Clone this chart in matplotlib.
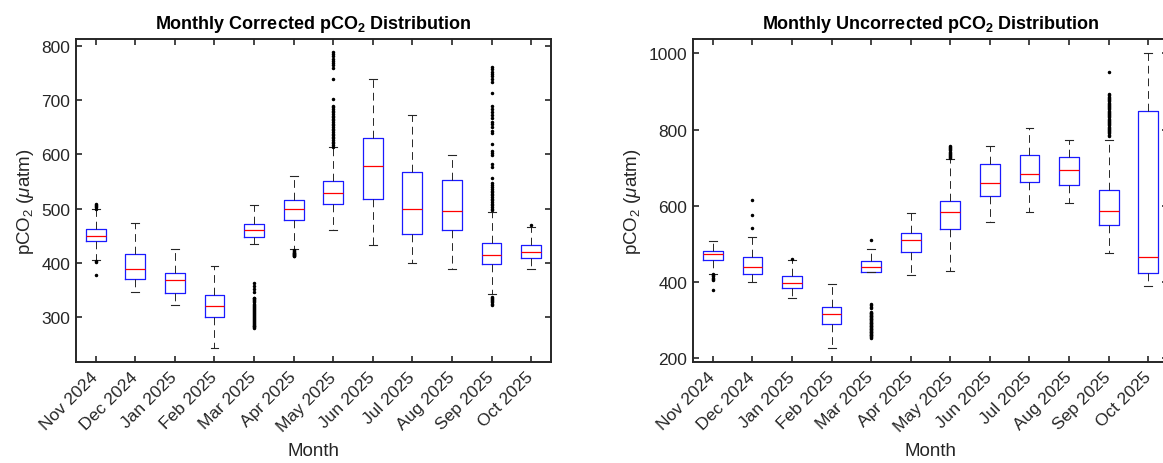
import matplotlib
matplotlib.use('Agg')
import matplotlib.pyplot as plt

plt.rcParams['font.family'] = ['Liberation Sans', 'DejaVu Sans']
plt.rcParams['mathtext.fontset'] = 'custom'
plt.rcParams['mathtext.rm'] = 'Liberation Sans'
plt.rcParams['mathtext.it'] = 'Liberation Sans:italic'
plt.rcParams['mathtext.bf'] = 'Liberation Sans:bold'

# месяцы (категории по оси X)
months = ['Nov 2024', 'Dec 2024', 'Jan 2025', 'Feb 2025', 'Mar 2025', 'Apr 2025',
          'May 2025', 'Jun 2025', 'Jul 2025', 'Aug 2025', 'Sep 2025', 'Oct 2025']

# скорректированный pCO2: квартили, медианы, усы
corr_q1 = [441, 371, 344, 300, 447, 479, 509, 517, 453, 461, 398, 409]
corr_med = [449, 389, 368, 321, 460, 499, 528, 578, 499, 496, 415, 420]
corr_q3 = [463, 417, 382, 340, 472, 515, 550, 630, 568, 552, 437, 432]
corr_lo = [405, 346, 323, 244, 434, 425, 461, 432, 399, 389, 342, 388]
corr_hi = [499, 474, 425, 394, 507, 560, 613, 738, 673, 599, 494, 466]
corr_fliers = [
    [378, 402, 404, 500, 502, 504, 506, 508],
    [],
    [],
    [],
    [280, 281, 283, 284, 286, 288, 289, 291, 293, 295, 297, 298, 300, 302, 304,
     305, 307, 309, 311, 313, 315, 317, 319, 321, 323, 325, 327, 329, 331, 333,
     335, 336, 346, 352, 358, 362],
    [412, 413, 414, 415, 416, 417, 418, 419, 420, 422, 424],
    [614, 617, 620, 623, 626, 629, 632, 635, 638, 641, 644, 647, 650, 653, 656,
     659, 662, 665, 668, 671, 674, 677, 680, 683, 686, 689, 701, 738, 759, 764,
     768, 772, 776, 780, 784, 788],
    [],
    [],
    [],
    [497, 500, 503, 506, 509, 512, 515, 518, 521, 524, 527, 530, 533, 536, 540,
     543, 547, 557, 577, 581, 599, 602, 605, 618, 639, 643, 650, 655, 660, 666,
     672, 678, 684, 688, 713, 732, 738, 743, 748, 752, 757, 761,
     323, 325, 327, 329, 331, 333, 335, 338],
    [469],
]

# нескорректированный pCO2
unc_q1 = [456, 421, 384, 290, 426, 479, 539, 625, 662, 655, 548, 423]
unc_med = [472, 440, 397, 316, 438, 509, 584, 660, 684, 693, 585, 466]
unc_q3 = [481, 464, 414, 334, 455, 529, 612, 710, 733, 728, 640, 849]
unc_lo = [421, 399, 358, 226, 426, 417, 429, 558, 584, 608, 476, 388]
unc_hi = [508, 518, 458, 393, 486, 581, 722, 757, 805, 773, 773, 1000]
unc_fliers = [
    [379, 405, 408, 411, 414, 417, 420],
    [542, 575, 614],
    [460],
    [],
    [253, 255, 257, 259, 261, 263, 265, 267, 269, 271, 273, 275, 277, 279, 281,
     283, 285, 287, 289, 291, 293, 295, 297, 299, 301, 303, 305, 307, 309, 311,
     313, 315, 317, 319, 321, 330, 334, 338, 341, 509],
    [],
    [724, 727, 730, 733, 736, 739, 742, 745, 748, 751, 754, 757],
    [],
    [],
    [],
    [784, 787, 790, 793, 796, 799, 802, 805, 808, 811, 814, 817, 820, 823, 826,
     829, 832, 835, 838, 841, 844, 847, 850, 853, 856, 859, 862, 865, 868, 871,
     874, 877, 880, 883, 886, 890, 893, 952],
    [],
]

dark = '#262626'


def draw_panel(ax, q1, med, q3, lo, hi, fliers, title, ylim, yticks):
    # статистика для bxp
    stats = []
    for i in range(len(months)):
        stats.append({'q1': q1[i], 'med': med[i], 'q3': q3[i],
                      'whislo': lo[i], 'whishi': hi[i], 'fliers': fliers[i]})
    ax.bxp(stats, positions=range(1, 13), widths=0.5, capwidths=0.2,
           boxprops=dict(color='#1a1aff', linewidth=0.9),
           medianprops=dict(color='red', linewidth=0.9),
           whiskerprops=dict(color=dark, linewidth=0.7, linestyle=(0, (8, 5))),
           capprops=dict(color=dark, linewidth=0.8),
           flierprops=dict(marker='.', markersize=3, markerfacecolor='black',
                           markeredgecolor='black', linestyle='none'))
    ax.set_xlim(0.5, 12.5)
    ax.set_ylim(*ylim)
    ax.set_yticks(yticks)
    ax.set_xticks(range(1, 13))
    ax.set_xticklabels(months, rotation=45, ha='right', va='center',
                       rotation_mode='anchor')
    ax.tick_params(direction='in', length=4, width=1.2, colors=dark,
                   labelsize=12.5, top=True, right=True, pad=4)
    ax.tick_params(axis='x', pad=9)
    for s in ax.spines.values():
        s.set_linewidth(1.4)
        s.set_color(dark)
    ax.set_title(title, fontsize=13, fontweight='bold', pad=8)
    ax.set_xlabel('Month', fontsize=13.5, color=dark, labelpad=6)
    ax.set_ylabel(r'pCO$_2$ ($\mu$atm)', fontsize=13.5, color=dark)


fig = plt.figure(figsize=(11.63, 4.64), dpi=100)
ax1 = fig.add_axes([0.0653, 0.2183, 0.4084, 0.6955])
ax2 = fig.add_axes([0.5959, 0.2183, 0.4084, 0.6955])

draw_panel(ax1, corr_q1, corr_med, corr_q3, corr_lo, corr_hi, corr_fliers,
           r'Monthly Corrected pCO$_\mathbf{2}$ Distribution',
           (218, 812), range(300, 801, 100))
draw_panel(ax2, unc_q1, unc_med, unc_q3, unc_lo, unc_hi, unc_fliers,
           r'Monthly Uncorrected pCO$_\mathbf{2}$ Distribution',
           (190, 1038), range(200, 1001, 200))

fig.savefig('out.png', dpi=100)
